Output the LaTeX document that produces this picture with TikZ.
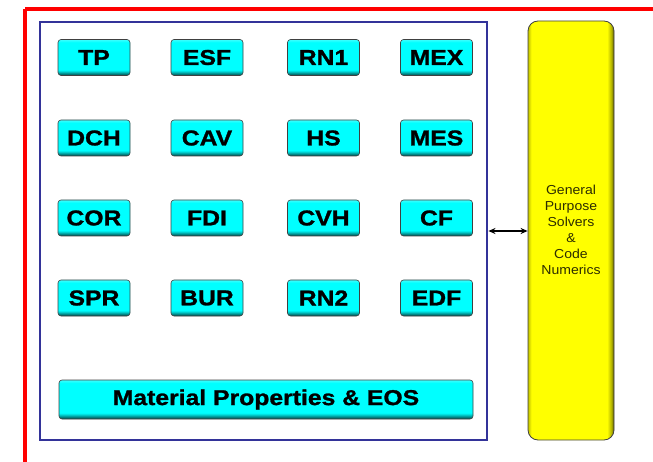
\documentclass[tikz,border=0pt]{standalone}
\usepackage{fontspec}
\setmainfont{Liberation Sans}
\newfontfamily\widesans[FakeStretch=1.15,BoldFeatures={FakeBold=1.2}]{Liberation Sans}
\newfontfamily\widesanslight[FakeStretch=1.08]{Liberation Sans}
\usetikzlibrary{arrows.meta}
\pgfdeclareverticalshading{btnshade}{100bp}{color(0bp)=(cyan!30!black); color(25bp)=(cyan!30!black); color(27.5bp)=(cyan!50!black); color(31bp)=(cyan!85!black); color(33bp)=(cyan); color(71bp)=(cyan); color(75bp)=(cyan!75!white); color(100bp)=(cyan!75!white)}
\pgfdeclarehorizontalshading{barshade}{100bp}{color(0bp)=(yellow!75!black); color(25bp)=(yellow!75!black); color(27bp)=(yellow); color(71bp)=(yellow); color(73.5bp)=(yellow!70!black); color(75bp)=(yellow!35!black); color(100bp)=(yellow!35!black)}
\tikzset{
  modbox/.style={rounded corners=3pt, draw=black!75, line width=0.6pt, shade, shading=btnshade,
    minimum width=72pt, minimum height=36pt, inner sep=0pt,
    font=\widesans\fontsize{21.5}{24}\selectfont\bfseries, text=black},
  panelbox/.style={draw={rgb,255:red,51;green,51;blue,153}, line width=2.9pt, inner sep=0pt},
  solverbox/.style={rounded corners=10pt, draw=black!75, line width=0.8pt, shade, shading=barshade,
    inner sep=0pt, minimum width=86pt, minimum height=419pt},
  frame/.style={draw=red, line width=3.2pt},
  link/.style={{Stealth[length=7pt,width=6pt]}-{Stealth[length=7pt,width=6pt]}, line width=1.3pt, black}
}
\begin{document}
\begin{tikzpicture}[x=1pt,y=-1pt]
\useasboundingbox (0,0) rectangle (653,462);
\draw[frame] (25,9) -- (660,9);
\draw[frame] (25,9) -- (25,470);
\node[panelbox, minimum width=447pt, minimum height=418pt] (panel) at (263.5,231) {};
\node[modbox] (TP)  at (94,57.5)    {TP};
\node[modbox] (ESF) at (207,57.5)   {ESF};
\node[modbox] (RN1) at (323.5,57.5) {RN1};
\node[modbox] (MEX) at (436.5,57.5) {MEX};
\node[modbox] (DCH) at (94,138)     {DCH};
\node[modbox] (CAV) at (207,138)    {CAV};
\node[modbox] (HS)  at (323.5,138)  {HS};
\node[modbox] (MES) at (436.5,138)  {MES};
\node[modbox] (COR) at (94,218)     {COR};
\node[modbox] (FDI) at (207,218)    {FDI};
\node[modbox] (CVH) at (323.5,218)  {CVH};
\node[modbox] (CF)  at (436.5,218)  {CF};
\node[modbox] (SPR) at (94,298)     {SPR};
\node[modbox] (BUR) at (207,298)    {BUR};
\node[modbox] (RN2) at (323.5,298)  {RN2};
\node[modbox] (EDF) at (436.5,298)  {EDF};
\node[modbox, minimum width=414pt, minimum height=39pt] (MP) at (266,399.5) {Material Properties \& EOS};
\node[solverbox] (GPS) at (571,230.5) {};
\node[align=center, font=\widesanslight\fontsize{13}{16}\selectfont, text={rgb,255:red,45;green,45;blue,0}] (GPStext) at (571,230) {General\\Purpose\\Solvers\\\&\\Code\\Numerics};
\draw[link] (panel.east |- 0,231) -- (GPS.west |- 0,231);
\end{tikzpicture}
\end{document}
